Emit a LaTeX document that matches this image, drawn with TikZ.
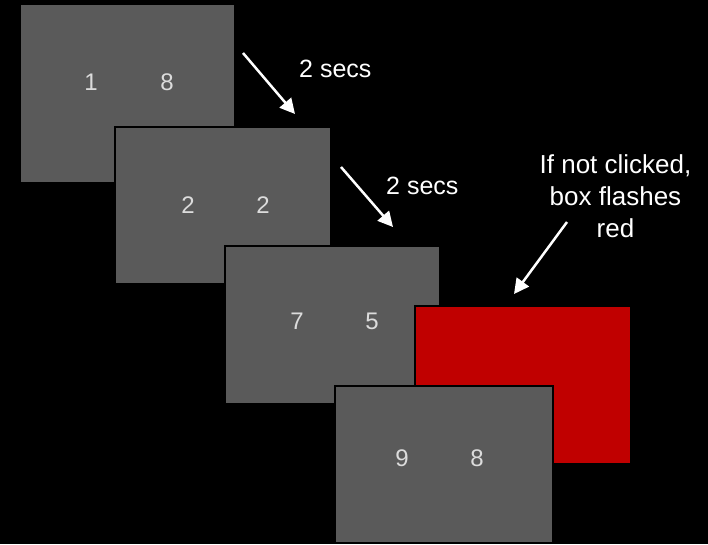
\documentclass[tikz,border=0pt]{standalone}
\usepackage{fontspec}
\setmainfont{Liberation Sans}
\usetikzlibrary{arrows.meta}
\definecolor{screengray}{HTML}{5A5A5A}
\definecolor{flashred}{HTML}{C00000}
\definecolor{digitgray}{HTML}{DCDCDC}
\tikzset{
  screen/.style={rectangle, fill=screengray, draw=black, line width=2pt, inner sep=0pt, anchor=north west},
  flash/.style={screen, fill=flashred},
  digit/.style={text=digitgray, font=\fontsize{24}{24}\selectfont, inner sep=0pt},
  label/.style={text=white, font=\fontsize{25}{25}\selectfont, inner sep=0pt, anchor=base west},
  note/.style={text=white, font=\fontsize{26}{32}\selectfont, inner sep=0pt, align=center, anchor=base},
  timearrow/.style={draw=white, line width=2.5pt, -{Triangle[length=15pt,width=15pt]}}
}
\begin{document}
\begin{tikzpicture}[x=1pt,y=-1pt]
\fill[black] (0,0) rectangle (708,544);
\useasboundingbox (0,0) rectangle (708,544);
% screens
\node[screen, minimum width=215pt, minimum height=179pt] (s1) at (19,3) {};
\node[screen, minimum width=216pt, minimum height=157pt] (s2) at (114,126) {};
\node[screen, minimum width=215pt, minimum height=158pt] (s3) at (224,245) {};
\node[flash, minimum width=216pt, minimum height=158pt] (sr) at (414,305) {};
\node[screen, minimum width=218pt, minimum height=157pt] (s4) at (334,385) {};
% digits
\node[digit] (d11) at (91,82.5) {1};
\node[digit] (d12) at (167,82.5) {8};
\node[digit] (d21) at (188,205.5) {2};
\node[digit] (d22) at (263,205.5) {2};
\node[digit] (d31) at (297,321.5) {7};
\node[digit] (d32) at (372,321.5) {5};
\node[digit] (d41) at (402,458.5) {9};
\node[digit] (d42) at (477,458.5) {8};
% labels
\node[label] (t1) at (299,77) {2 secs};
\node[label] (t2) at (386,194) {2 secs};
\node[note] (t3) at (615.5,237) {If not clicked,\\box flashes\\red};
% arrows
\coordinate (a1s) at (243,53);
\coordinate (a1e) at (295,114);
\coordinate (a2s) at (341,167);
\coordinate (a2e) at (393,227);
\coordinate (a3s) at (567,222);
\coordinate (a3e) at (514,294);
\draw[timearrow] (a1s) -- (a1e);
\draw[timearrow] (a2s) -- (a2e);
\draw[timearrow] (a3s) -- (a3e);
\end{tikzpicture}
\end{document}
